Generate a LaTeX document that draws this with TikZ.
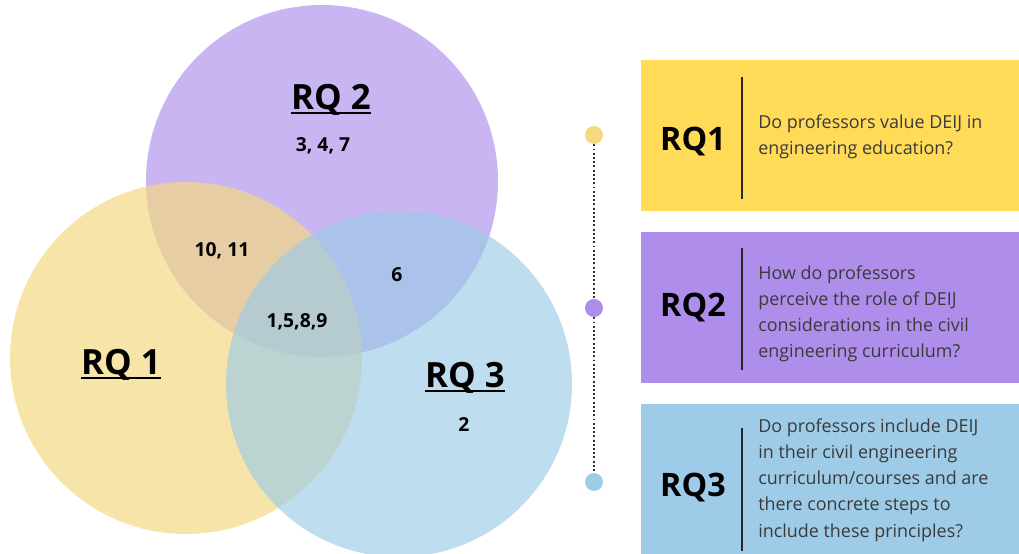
\documentclass[tikz,border=0pt]{standalone}
\usepackage{fontspec}
\setmainfont{Open Sans}
\usepackage{xcolor}
\usetikzlibrary{calc}
\definecolor{rqyellow}{RGB}{244,216,132}
\definecolor{rqpurple}{RGB}{201,181,242}
\definecolor{rqblue}{RGB}{156,203,231}
\definecolor{boxyellow}{RGB}{255,219,88}
\definecolor{boxpurple}{RGB}{175,142,235}
\definecolor{boxblue}{RGB}{158,204,232}
\definecolor{dotyellow}{RGB}{245,217,127}
\definecolor{desctext}{RGB}{58,58,58}
\tikzset{
  setlabel/.style={font=\fontsize{19.8}{22}\selectfont\bfseries, inner sep=0pt},
  setnum/.style={font=\fontsize{11}{12}\selectfont\bfseries},
  underl/.style={line width=1.2pt},
  rqbox/.style={rectangle, inner sep=0pt, minimum width=7.56cm, minimum height=3.02cm, anchor=north west},
  rqname/.style={font=\fontsize{18.4}{20}\selectfont\bfseries},
  rqtext/.style={font=\fontsize{10.2}{14.9}\selectfont, text=desctext, align=left, anchor=west, inner sep=0pt},
  tldot/.style={circle, inner sep=0pt, minimum size=0.36cm},
}
\begin{document}
\begin{tikzpicture}[x=0.02cm, y=-0.02cm]
        \useasboundingbox (0,0) rectangle (1019,554);
        %VENN
        \coordinate (C2) at (322,181);
        \coordinate (C1) at (186,358);
        \coordinate (C3) at (399,384);
        \fill[rqpurple] (C2) circle (176);
        \fill[rqyellow, fill opacity=0.7] (C1) circle (176);
        \fill[rqblue, fill opacity=0.66] (C3) circle (173);
        %label
        \node[setlabel] (rq2) at (331,100) {RQ 2};
        \node[setlabel] (rq1) at (121,365) {RQ 1};
        \node[setlabel] (rq3) at (465,378) {RQ 3};
        \foreach \s in {rq1,rq2,rq3}
          \draw[underl] ($(\s.base west)+(0,3.5)$) -- ($(\s.base east)+(0,3.5)$);
        \node[setnum] (n2) at (323,146) {3, 4, 7};
        \node[setnum] (n12) at (222,251) {10, 11};
        \node[setnum] (n23) at (397,275) {6};
        \node[setnum] (n123) at (297,322) {1,5,8,9};
        \node[setnum] (n3) at (464,425) {2};
        %TIMELINE
        \node[tldot, fill=dotyellow] (d1) at (594,135) {};
        \node[tldot, fill=boxpurple] (d2) at (594,308) {};
        \node[tldot, fill=boxblue] (d3) at (594,482) {};
        \draw[line width=1.1pt, dash pattern=on 1.1pt off 1.3pt, black!80] (d1) -- (d2) -- (d3);
        %BOX
        \node[rqbox, fill=boxyellow] (b1) at (641,60) {};
        \node[rqbox, fill=boxpurple] (b2) at (641,232) {};
        \node[rqbox, fill=boxblue] (b3) at (641,404) {};
        \draw[line width=0.8pt, black!85] (742,77) -- (742,199);
        \draw[line width=0.8pt, black!85] (742,248) -- (742,370);
        \draw[line width=0.8pt, black!85] (742,428) -- (742,551);
        \node[rqname] (q1) at (693,142) {RQ1};
        \node[rqname] (q2) at (693,308) {RQ2};
        \node[rqname] (q3) at (693,488) {RQ3};
        \node[rqtext] (t1) at (758,137) {Do professors value DEIJ in\\engineering education?};
        \node[rqtext] (t2) at (758,314) {How do professors\\perceive the role of DEIJ\\considerations in the civil\\engineering curriculum?};
        \node[rqtext] (t3) at (758,480) {Do professors include DEIJ\\in their civil engineering\\curriculum/courses and are\\there concrete steps to\\include these principles?};
\end{tikzpicture}
\end{document}
